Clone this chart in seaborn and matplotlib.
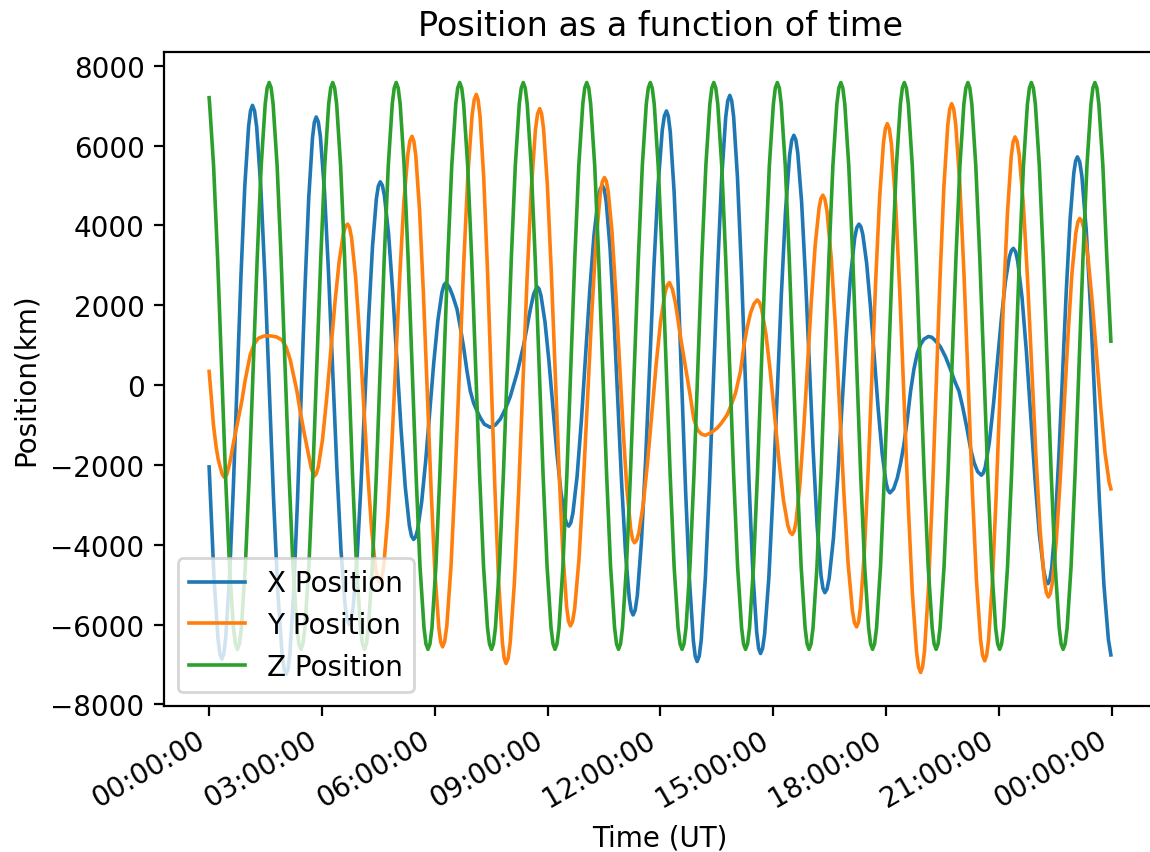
import matplotlib
matplotlib.use("Agg")
import matplotlib.pyplot as plt
import matplotlib.dates as mdates
import pandas as pd
import seaborn as sns

# Satellite position components over one day.
# Sample times are minutes after 00:00 UT, positions are in km.

x_minutes = [
    0.0, 7.8, 14.1, 17.2, 20.3,
    23.4, 26.4, 32.5, 38.6, 44.7, 50.8, 56.9, 63.0, 66.1, 69.2,
    72.5, 75.9, 82.6, 89.3, 96.1, 102.8, 109.5, 116.2, 119.6, 123.0,
    126.0, 129.0, 134.9, 140.9, 146.9, 152.9, 158.9, 164.9, 167.9, 170.9,
    174.2, 177.5, 184.1, 190.6, 197.2, 203.8, 210.4, 217.0, 220.3, 223.6,
    226.7, 229.8, 236.0, 242.1, 248.3, 254.5, 260.7, 266.9, 270.0, 273.1,
    276.4, 279.7, 286.4, 293.0, 299.7, 306.3, 313.0, 319.6, 322.9, 326.3,
    329.5, 332.7, 339.2, 345.7, 352.1, 358.6, 365.1, 371.5, 374.8, 378.0,
    383.3, 388.9, 395.6, 400.8, 406.1, 411.5, 416.8, 422.1, 427.5, 432.8, 439.2, 448.7,
    456.7, 464.7, 472.7, 480.7, 485.9, 491.4, 496.6, 501.9, 507.3, 512.6, 517.9, 523.3,
    526.5, 529.6, 535.9, 542.2, 548.5, 554.8, 561.2, 567.5, 570.6, 573.8,
    577.1, 580.5, 587.2, 594.0, 600.7, 607.4, 614.1, 620.9, 624.2, 627.6,
    630.6, 633.7, 639.8, 646.0, 652.1, 658.2, 664.4, 670.5, 673.5, 676.6,
    679.9, 683.3, 689.9, 696.6, 703.2, 709.8, 716.5, 723.1, 726.5, 729.8,
    732.8, 735.9, 742.0, 748.2, 754.3, 760.4, 766.6, 772.7, 775.7, 778.8,
    782.1, 785.3, 791.8, 798.3, 804.8, 811.4, 817.9, 824.4, 827.6, 830.9,
    833.9, 837.0, 843.1, 849.3, 855.4, 861.5, 867.6, 873.8, 876.8, 879.9,
    883.2, 886.5, 893.2, 899.8, 906.5, 913.1, 919.8, 926.4, 929.7, 933.1,
    936.2, 939.3, 945.5, 951.6, 957.8, 964.0, 970.2, 976.4, 979.5, 982.6,
    986.0, 989.4, 996.2, 1002.9, 1009.7, 1016.5, 1023.3, 1030.1, 1033.5, 1036.9,
    1040.0, 1043.1, 1049.3, 1055.4, 1061.6, 1067.8, 1074.0, 1080.2, 1083.3, 1086.4,
    1092.3, 1098.2, 1103.5, 1108.7, 1114.2, 1119.4, 1124.7, 1130.1, 1135.4, 1140.7, 1147.7,
    1153.0, 1157.8, 1162.5, 1167.3, 1175.3, 1183.3, 1189.7, 1196.6, 1202.5, 1208.9, 1215.2,
    1220.8, 1226.4, 1232.3,
    1235.5, 1238.7, 1245.1, 1251.5, 1257.9, 1264.3, 1270.7, 1277.0, 1280.2, 1283.4,
    1286.9, 1290.3, 1297.2, 1304.2, 1311.1, 1318.0, 1324.9, 1331.8, 1335.2, 1338.7,
    1341.6, 1344.6, 1350.4, 1356.3, 1362.2, 1368.0, 1373.9, 1379.8, 1382.7, 1385.6,
    1389.2, 1392.7, 1399.7, 1406.8, 1413.8, 1420.9, 1427.9, 1435.0, 1439.0,
]
x_km = [
    -2050, -4837, -6339, -6734, -6867,
    -6734, -6338, -4836, -2584, 71, 2725, 4977, 6479, 6875, 7008,
    6871, 6465, 4922, 2609, -117, -2843, -5156, -6699, -7105, -7242,
    -7108, -6710, -5198, -2933, -262, 2408, 4673, 6185, 6583, 6717,
    6595, 6232, 4855, 2791, 358, -2074, -4138, -5515, -5878, -6000,
    -5894, -5577, -4376, -2576, -454, 1668, 3468, 4669, 4986, 5092,
    5006, 4751, 3780, 2326, 612, -1101, -2555, -3526, -3781, -3867,
    -3805, -3622, -2925, -1881, -650, 581, 1625, 2322, 2505, 2567,
    2450, 2230, 1900, 1450, 950, 350, -150, -450, -650, -820, -980, -1058,
    -1000, -850, -600, -280, 0, 300, 650, 1000, 1450, 1900, 2280, 2467,
    2409, 2238, 1589, 615, -533, -1681, -2655, -3304, -3475, -3533,
    -3451, -3208, -2284, -899, 734, 2366, 3751, 4675, 4918, 5000,
    4897, 4590, 3425, 1679, -379, -2437, -4183, -5348, -5655, -5758,
    -5637, -5277, -3910, -1861, 555, 2970, 5019, 6386, 6746, 6867,
    6735, 6342, 4848, 2609, -29, -2668, -4906, -6400, -6793, -6925,
    -6789, -6385, -4849, -2547, 167, 2880, 5182, 6718, 7122, 7258,
    7124, 6725, 5211, 2941, 266, -2408, -4678, -6192, -6591, -6725,
    -6600, -6230, -4824, -2717, -233, 2250, 4357, 5763, 6133, 6258,
    6148, 5821, 4581, 2721, 529, -1663, -3523, -4764, -5090, -5200,
    -5111, -4848, -3848, -2350, -583, 1183, 2681, 3681, 3944, 4033,
    3968, 3776, 3047, 1954, 666, -621, -1714, -2443, -2635, -2700,
    -2600, -2325, -1950, -1492, -850, -150, 400, 800, 1020, 1150, 1217,
    1200, 1130, 1050, 950, 700, 380, 100, -150, -550, -1050, -1600,
    -1950, -2170, -2258,
    -2203, -2041, -1426, -504, 584, 1671, 2593, 3209, 3370, 3425,
    3344, 3105, 2195, 832, -775, -2382, -3745, -4655, -4894, -4975,
    -4872, -4568, -3410, -1674, 371, 2416, 4152, 5310, 5614, 5717,
    5596, 5238, 3877, 1838, -567, -2971, -5010, -6371, -6760,
]

y_minutes = [
    0.0, 3.2, 6.9, 11.2, 14.4, 17.6, 20.8, 24.0, 28.0, 31.9, 35.1, 38.8, 45.5, 52.2, 57.5,
    65.5, 71.9, 78.7, 87.8, 97.4, 107.0, 116.1, 123.0, 129.4, 134.6, 140.1, 145.3, 151.7,
    158.6, 162.9, 167.7,
    171.0, 174.3, 181.0, 187.6, 194.3, 200.9, 207.6, 214.2, 217.5, 220.9,
    224.1, 227.3, 233.7, 240.1, 246.6, 253.0, 259.4, 265.8, 269.1, 272.3,
    275.5, 278.7, 285.1, 291.6, 298.0, 304.4, 310.8, 317.3, 320.5, 323.7,
    326.7, 329.8, 335.9, 342.0, 348.1, 354.2, 360.3, 366.5, 369.5, 372.6,
    375.9, 379.3, 386.0, 392.7, 399.5, 406.2, 412.9, 419.6, 423.0, 426.4,
    429.3, 432.3, 438.2, 444.2, 450.1, 456.0, 461.9, 467.9, 470.8, 473.8,
    477.2, 480.5, 487.2, 493.9, 500.6, 507.3, 514.0, 520.7, 524.1, 527.5,
    530.5, 533.6, 539.7, 545.8, 552.0, 558.1, 564.2, 570.4, 573.4, 576.5,
    579.9, 583.3, 590.1, 596.8, 603.6, 610.4, 617.2, 624.0, 627.4, 630.8,
    633.8, 636.8, 642.8, 648.7, 654.7, 660.7, 666.7, 672.7, 675.7, 678.7,
    682.2, 685.7, 692.7, 699.6, 706.6, 713.6, 720.6, 727.6, 731.1, 734.6,
    739.4, 744.2, 752.1, 760.1, 768.1, 773.4, 779.3, 785.7, 792.1, 800.1, 810.8,
    817.6, 826.7, 833.6, 840.0, 848.0, 853.2, 858.7, 863.9, 869.2, 874.6,
    878.1, 881.6, 888.6, 895.6, 902.6, 909.6, 916.5, 923.5, 927.0, 930.5,
    933.6, 936.6, 942.7, 948.8, 955.0, 961.1, 967.2, 973.3, 976.3, 979.4,
    982.7, 986.1, 992.8, 999.6, 1006.3, 1013.0, 1019.7, 1026.5, 1029.8, 1033.2,
    1036.3, 1039.3, 1045.5, 1051.6, 1057.7, 1063.8, 1070.0, 1076.1, 1079.2, 1082.2,
    1085.5, 1088.9, 1095.5, 1102.2, 1108.8, 1115.5, 1122.1, 1128.8, 1132.1, 1135.4,
    1138.5, 1141.6, 1147.8, 1154.0, 1160.2, 1166.3, 1172.5, 1178.7, 1181.8, 1184.9,
    1188.2, 1191.5, 1198.1, 1204.7, 1211.3, 1217.8, 1224.4, 1231.0, 1234.3, 1237.6,
    1240.6, 1243.7, 1249.7, 1255.7, 1261.8, 1267.8, 1273.9, 1279.9, 1283.0, 1286.0,
    1289.3, 1292.7, 1299.3, 1306.0, 1312.7, 1319.3, 1326.0, 1332.7, 1336.0, 1339.3,
    1342.4, 1345.6, 1351.8, 1358.1, 1364.3, 1370.6, 1376.8, 1383.1, 1386.2, 1389.3,
    1392.7, 1396.0, 1402.7, 1409.4, 1416.2, 1422.9, 1429.6, 1436.3, 1439.0,
]
y_km = [
    342, -250, -1000, -1550, -1850, -2050, -2230, -2308, -2250, -2020, -1780, -1450, -920, -400, 120,
    750, 1030, 1175, 1230, 1233, 1210, 1133, 950, 633, 250, -150, -658, -1200,
    -1742, -2080, -2283,
    -2222, -2042, -1358, -333, 875, 2083, 3108, 3792, 3972, 4033,
    3947, 3691, 2718, 1260, -459, -2177, -3635, -4608, -4864, -4950,
    -4843, -4524, -3313, -1498, 642, 2781, 4596, 5807, 6126, 6233,
    6110, 5746, 4360, 2284, -163, -2609, -4685, -6071, -6435, -6558,
    -6425, -6031, -4532, -2285, 363, 3010, 5257, 6756, 7150, 7283,
    7146, 6740, 5196, 2882, 154, -2574, -4888, -6432, -6838, -6975,
    -6842, -6445, -4940, -2684, -25, 2634, 4890, 6395, 6792, 6925,
    6801, 6431, 5028, 2925, 446, -2033, -4136, -5539, -5909, -6033,
    -5925, -5605, -4388, -2565, -416, 1732, 3556, 4772, 5092, 5200,
    5112, 4851, 3860, 2375, 625, -1125, -2610, -3601, -3862, -3950,
    -3887, -3702, -2996, -1938, -691, 555, 1613, 2319, 2504, 2567,
    2400, 2050, 1217, 450, -300, -850, -1120, -1230, -1258, -1200, -1075,
    -950, -742, -480, -200, 350, 967, 1450, 1800, 2030, 2133,
    2077, 1909, 1273, 319, -805, -1928, -2882, -3518, -3686, -3742,
    -3660, -3418, -2498, -1118, 508, 2134, 3514, 4434, 4676, 4758,
    4654, 4346, 3175, 1419, -650, -2719, -4475, -5646, -5954, -6058,
    -5937, -5578, -4212, -2166, 246, 2658, 4704, 6070, 6429, 6550,
    6418, 6026, 4537, 2305, -325, -2955, -5187, -6676, -7068, -7200,
    -7063, -6657, -5114, -2801, -75, 2651, 4964, 6507, 6913, 7050,
    6916, 6518, 5007, 2741, 71, -2599, -4865, -6376, -6774, -6908,
    -6782, -6408, -4986, -2856, -345, 2165, 4295, 5717, 6091, 6217,
    6106, 5778, 4530, 2659, 454, -1750, -3621, -4869, -5197, -5308,
    -5217, -4947, -3920, -2381, -566, 1248, 2787, 3814, 4084, 4175,
    4109, 3913, 3168, 2053, 737, -578, -1693, -2438, -2600,
]

z_minutes = [
    0.0, 0.8, 7.1, 13.5, 19.8, 26.1, 32.5, 38.8, 42.0,
    45.1, 48.3, 51.5, 57.8, 64.1, 70.5, 76.8, 83.1, 89.5, 92.6,
    95.8, 99.0, 102.1, 108.5, 114.8, 121.2, 127.5, 133.8, 140.2, 143.3,
    146.5, 149.7, 152.8, 159.2, 165.5, 171.8, 178.2, 184.5, 190.8, 194.0,
    197.2, 200.3, 203.5, 209.8, 216.2, 222.5, 228.8, 235.2, 241.5, 244.7,
    247.9, 251.0, 254.2, 260.5, 266.9, 273.2, 279.5, 285.9, 292.2, 295.4,
    298.5, 301.7, 304.9, 311.2, 317.5, 323.9, 330.2, 336.5, 342.9, 346.0,
    349.2, 352.4, 355.6, 361.9, 368.2, 374.6, 380.9, 387.2, 393.6, 396.7,
    399.9, 403.1, 406.2, 412.6, 418.9, 425.2, 431.6, 437.9, 444.2, 447.4,
    450.6, 453.7, 456.9, 463.2, 469.6, 475.9, 482.3, 488.6, 494.9, 498.1,
    501.3, 504.4, 507.6, 513.9, 520.3, 526.6, 532.9, 539.3, 545.6, 548.8,
    551.9, 555.1, 558.3, 564.6, 570.9, 577.3, 583.6, 589.9, 596.3, 599.4,
    602.6, 605.8, 608.9, 615.3, 621.6, 628.0, 634.3, 640.6, 647.0, 650.1,
    653.3, 656.5, 659.6, 666.0, 672.3, 678.6, 685.0, 691.3, 697.6, 700.8,
    704.0, 707.1, 710.3, 716.6, 723.0, 729.3, 735.7, 742.0, 748.3, 751.5,
    754.7, 757.8, 761.0, 767.3, 773.7, 780.0, 786.3, 792.7, 799.0, 802.2,
    805.3, 808.5, 811.7, 818.0, 824.3, 830.7, 837.0, 843.3, 849.7, 852.8,
    856.0, 859.2, 862.4, 868.7, 875.0, 881.4, 887.7, 894.0, 900.4, 903.5,
    906.7, 909.9, 913.0, 919.4, 925.7, 932.0, 938.4, 944.7, 951.0, 954.2,
    957.4, 960.5, 963.7, 970.0, 976.4, 982.7, 989.1, 995.4, 1001.7, 1004.9,
    1008.1, 1011.2, 1014.4, 1020.7, 1027.1, 1033.4, 1039.7, 1046.1, 1052.4, 1055.6,
    1058.7, 1061.9, 1065.1, 1071.4, 1077.7, 1084.1, 1090.4, 1096.7, 1103.1, 1106.2,
    1109.4, 1112.6, 1115.8, 1122.1, 1128.4, 1134.8, 1141.1, 1147.4, 1153.8, 1156.9,
    1160.1, 1163.3, 1166.4, 1172.8, 1179.1, 1185.4, 1191.8, 1198.1, 1204.4, 1207.6,
    1210.8, 1213.9, 1217.1, 1223.4, 1229.8, 1236.1, 1242.5, 1248.8, 1255.1, 1258.3,
    1261.5, 1264.6, 1267.8, 1274.1, 1280.5, 1286.8, 1293.1, 1299.5, 1305.8, 1309.0,
    1312.1, 1315.3, 1318.5, 1324.8, 1331.1, 1337.5, 1343.8, 1350.1, 1356.5, 1359.6,
    1362.8, 1366.0, 1369.2, 1375.5, 1381.8, 1388.2, 1394.5, 1400.8, 1407.2, 1410.3,
    1413.5, 1416.7, 1419.8, 1426.2, 1432.5, 1439.0,
]
z_km = [
    7200, 7039, 5501, 3196, 480, -2236, -4541, -6079, -6484,
    -6620, -6484, -6079, -4541, -2236, 480, 3196, 5501, 7039, 7444,
    7580, 7444, 7039, 5501, 3196, 480, -2236, -4541, -6079, -6484,
    -6620, -6484, -6079, -4541, -2236, 480, 3196, 5501, 7039, 7444,
    7580, 7444, 7039, 5501, 3196, 480, -2236, -4541, -6079, -6484,
    -6620, -6484, -6079, -4541, -2236, 480, 3196, 5501, 7039, 7444,
    7580, 7444, 7039, 5501, 3196, 480, -2236, -4541, -6079, -6484,
    -6620, -6484, -6079, -4541, -2236, 480, 3196, 5501, 7039, 7444,
    7580, 7444, 7039, 5501, 3196, 480, -2236, -4541, -6079, -6484,
    -6620, -6484, -6079, -4541, -2236, 480, 3196, 5501, 7039, 7444,
    7580, 7444, 7039, 5501, 3196, 480, -2236, -4541, -6079, -6484,
    -6620, -6484, -6079, -4541, -2236, 480, 3196, 5501, 7039, 7444,
    7580, 7444, 7039, 5501, 3196, 480, -2236, -4541, -6079, -6484,
    -6620, -6484, -6079, -4541, -2236, 480, 3196, 5501, 7039, 7444,
    7580, 7444, 7039, 5501, 3196, 480, -2236, -4541, -6079, -6484,
    -6620, -6484, -6079, -4541, -2236, 480, 3196, 5501, 7039, 7444,
    7580, 7444, 7039, 5501, 3196, 480, -2236, -4541, -6079, -6484,
    -6620, -6484, -6079, -4541, -2236, 480, 3196, 5501, 7039, 7444,
    7580, 7444, 7039, 5501, 3196, 480, -2236, -4541, -6079, -6484,
    -6620, -6484, -6079, -4541, -2236, 480, 3196, 5501, 7039, 7444,
    7580, 7444, 7039, 5501, 3196, 480, -2236, -4541, -6079, -6484,
    -6620, -6484, -6079, -4541, -2236, 480, 3196, 5501, 7039, 7444,
    7580, 7444, 7039, 5501, 3196, 480, -2236, -4541, -6079, -6484,
    -6620, -6484, -6079, -4541, -2236, 480, 3196, 5501, 7039, 7444,
    7580, 7444, 7039, 5501, 3196, 480, -2236, -4541, -6079, -6484,
    -6620, -6484, -6079, -4541, -2236, 480, 3196, 5501, 7039, 7444,
    7580, 7444, 7039, 5501, 3196, 480, -2236, -4541, -6079, -6484,
    -6620, -6484, -6079, -4541, -2236, 480, 3196, 5501, 7039, 7444,
    7580, 7444, 7039, 5501, 3196, 1100,
]

series_names = ["X Position", "Y Position", "Z Position"]
series_colors = ["#1f77b4", "#ff7f0e", "#2ca02c"]

day_start = pd.Timestamp("2021-01-01 00:00:00")


def to_frame(minutes, km):
    return pd.DataFrame({
        "time": day_start + pd.to_timedelta(minutes, unit="m"),
        "km": km,
    })


fig = plt.figure(figsize=(5.75, 4.265), dpi=200)
ax = fig.add_axes([0.14261, 0.17116, 0.86261, 0.76671])

for (minutes, km), name, color in zip(
        [(x_minutes, x_km), (y_minutes, y_km), (z_minutes, z_km)],
        series_names, series_colors):
    sns.lineplot(data=to_frame(minutes, km), x="time", y="km", ax=ax,
                 color=color, label=name, linewidth=1.3,
                 estimator=None, sort=False)

ax.set_xlim(day_start - pd.Timedelta(minutes=72),
            day_start + pd.Timedelta(minutes=1439 + 72))
ax.set_ylim(-8040, 8345)
ax.set_yticks(range(-8000, 8001, 2000))

ax.xaxis.set_major_locator(mdates.HourLocator(byhour=range(0, 24, 3)))
ax.xaxis.set_major_formatter(mdates.DateFormatter("%H:%M:%S"))
for lbl in ax.get_xticklabels():
    lbl.set_rotation(30)
    lbl.set_horizontalalignment("right")

ax.set_title("Position as a function of time")
ax.set_xlabel("Time (UT)")
ax.set_ylabel("Position(km)")
ax.legend(loc="lower left")

fig.savefig("out.png", dpi=200)
